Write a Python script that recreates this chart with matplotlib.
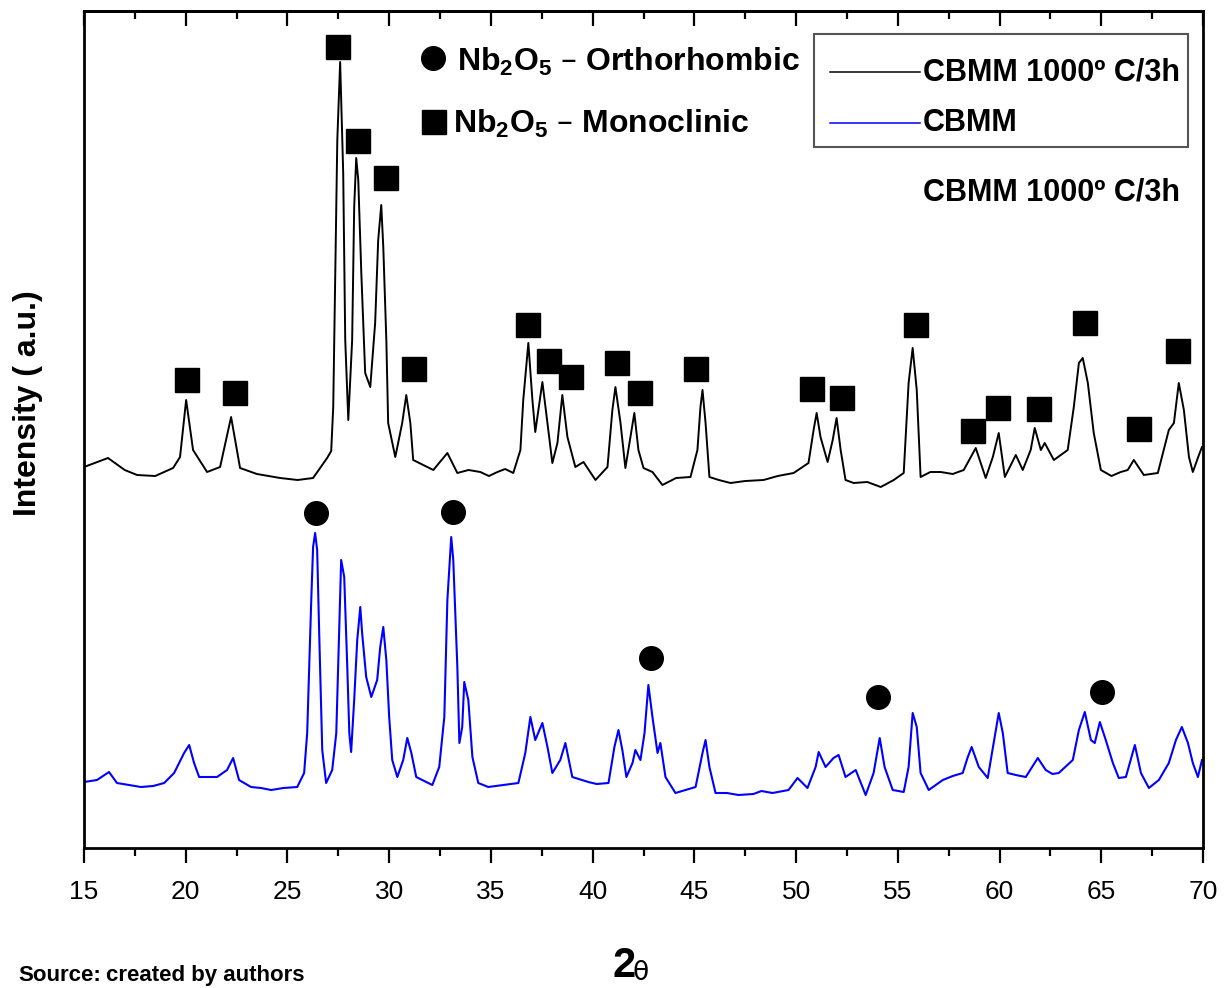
import matplotlib
matplotlib.use("Agg")
import matplotlib.pyplot as plt
from matplotlib.patches import Rectangle
from matplotlib.ticker import MultipleLocator

plt.rcParams['font.family'] = ['Liberation Sans', 'DejaVu Sans']
plt.rcParams['mathtext.default'] = 'regular'

# ---- data (2theta in degrees, intensity in a.u.) ----
tt_calc = [15.00, 16.18, 17.00, 17.61, 18.50, 19.38, 19.72, 20.02, 20.36, 21.05, 21.69, 22.23,
           22.67, 23.50, 24.64, 25.50, 26.26, 26.95, 27.15, 27.25, 27.45, 27.59, 27.74, 27.84,
           27.99, 28.18, 28.28, 28.38, 28.48, 28.63, 28.82, 29.07, 29.31, 29.46, 29.61, 29.71,
           29.86, 29.95, 30.30, 30.64, 30.84, 31.04, 31.18, 32.17, 32.86, 33.35, 33.90, 34.48,
           34.90, 35.32, 35.70, 36.10, 36.45, 36.59, 36.84, 37.04, 37.18, 37.53, 37.78, 38.02,
           38.27, 38.51, 38.76, 39.15, 39.55, 40.14, 40.73, 40.97, 41.12, 41.37, 41.61, 41.86,
           42.05, 42.25, 42.50, 42.94, 43.43, 44.10, 44.81, 45.15, 45.30, 45.40, 45.55, 45.74,
           46.20, 46.78, 47.50, 48.40, 49.10, 49.88, 50.61, 50.86, 51.01, 51.20, 51.55, 51.80,
           51.99, 52.19, 52.43, 52.83, 53.50, 54.16, 54.80, 55.29, 55.53, 55.73, 55.93, 56.12,
           56.60, 57.11, 57.70, 58.24, 58.83, 59.32, 59.67, 59.96, 60.26, 60.80, 61.14, 61.53,
           61.73, 62.03, 62.22, 62.67, 63.35, 63.65, 63.90, 64.09, 64.34, 64.63, 64.98, 65.50,
           65.96, 66.30, 66.60, 67.09, 67.78, 68.32, 68.57, 68.81, 69.06, 69.31, 69.50, 69.80,
           69.95]
int_calc = [381, 390, 378, 373, 372, 380, 391, 448, 398, 376, 381, 431,
            380, 374, 370, 368, 370, 390, 397, 441, 708, 786, 675, 508,
            428, 508, 641, 690, 668, 575, 475, 461, 525, 608, 643, 601,
            508, 425, 391, 425, 453, 425, 388, 378, 395, 375, 378, 376,
            372, 376, 379, 375, 398, 448, 505, 448, 416, 466, 425, 385,
            405, 453, 411, 381, 386, 368, 381, 438, 461, 425, 380, 411,
            435, 398, 380, 376, 363, 370, 371, 398, 441, 458, 425, 371,
            368, 365, 367, 368, 372, 375, 385, 418, 435, 411, 386, 408,
            430, 398, 368, 365, 366, 361, 368, 375, 465, 500, 458, 371,
            376, 376, 374, 378, 400, 370, 391, 415, 371, 393, 378, 398,
            420, 398, 405, 388, 398, 441, 485, 490, 465, 415, 378, 372,
            376, 378, 388, 373, 375, 418, 425, 465, 438, 391, 376, 393,
            401]

tt_raw = [15.00, 15.64, 16.23, 16.62, 17.20, 17.80, 18.40, 18.94, 19.43, 19.92, 20.17, 20.41,
          20.66, 21.54, 22.03, 22.33, 22.62, 23.21, 23.70, 24.20, 24.80, 25.48, 25.82, 25.97,
          26.17, 26.26, 26.36, 26.46, 26.56, 26.71, 26.90, 27.20, 27.40, 27.54, 27.64, 27.79,
          27.94, 28.04, 28.13, 28.28, 28.43, 28.58, 28.67, 28.87, 29.12, 29.41, 29.56, 29.71,
          29.86, 30.00, 30.15, 30.40, 30.69, 30.89, 31.09, 31.33, 32.12, 32.46, 32.71, 32.86,
          33.05, 33.15, 33.35, 33.45, 33.59, 33.69, 33.89, 34.09, 34.38, 34.87, 35.60, 36.35,
          36.69, 36.94, 37.18, 37.53, 37.78, 38.02, 38.41, 38.66, 39.00, 39.79, 40.20, 40.78,
          41.07, 41.27, 41.46, 41.66, 41.96, 42.10, 42.35, 42.55, 42.74, 42.94, 43.19, 43.33,
          43.58, 44.07, 45.06, 45.40, 45.55, 45.74, 46.04, 46.60, 47.17, 47.90, 48.30, 48.84,
          49.63, 50.07, 50.56, 50.96, 51.11, 51.45, 51.84, 52.09, 52.43, 52.93, 53.42, 53.81,
          54.11, 54.35, 54.75, 55.29, 55.53, 55.73, 55.93, 56.12, 56.52, 57.21, 57.70, 58.19,
          58.44, 58.63, 58.98, 59.42, 59.71, 59.96, 60.16, 60.40, 60.80, 61.29, 61.88, 62.27,
          62.60, 62.91, 63.60, 63.90, 64.19, 64.49, 64.68, 64.93, 65.22, 65.57, 65.86, 66.21,
          66.65, 66.95, 67.34, 67.83, 68.32, 68.67, 68.96, 69.26, 69.50, 69.75, 69.95]
int_raw = [66, 68, 76, 65, 63, 61, 62, 65, 75, 95, 103, 85,
           71, 71, 78, 90, 68, 61, 60, 58, 60, 61, 75, 115,
           248, 301, 315, 298, 215, 98, 65, 78, 115, 215, 288, 271,
           181, 115, 96, 148, 208, 241, 215, 171, 151, 168, 201, 221,
           188, 131, 88, 71, 88, 110, 95, 71, 63, 81, 131, 248,
           311, 288, 181, 105, 121, 166, 148, 91, 65, 61, 63, 65,
           95, 131, 108, 125, 101, 75, 88, 105, 71, 66, 64, 65,
           101, 118, 98, 71, 85, 98, 88, 115, 163, 131, 95, 105,
           71, 55, 61, 95, 108, 81, 55, 55, 53, 54, 57, 55,
           58, 70, 60, 81, 96, 81, 90, 93, 71, 78, 53, 75,
           110, 81, 58, 56, 81, 135, 121, 75, 58, 68, 72, 75,
           91, 101, 81, 70, 105, 135, 115, 75, 73, 71, 90, 78,
           74, 75, 88, 118, 136, 108, 105, 126, 108, 85, 70, 71,
           103, 75, 60, 68, 85, 108, 121, 105, 85, 71, 88]

# phase markers
mono_tt = [27.49, 28.48, 29.86, 20.07, 22.43, 31.23, 36.84, 37.87, 38.96, 41.22, 42.35,
           45.10, 50.76, 52.24, 55.88, 58.68, 59.91, 61.93, 64.19, 66.85, 68.77]
mono_int = [801, 707, 670, 468, 455, 479, 523, 487, 471, 485, 455,
            479, 459, 450, 523, 417, 440, 439, 525, 419, 497]
ortho_tt = [26.41, 33.15, 42.89, 54.01, 65.03]
ortho_int = [335, 336, 190, 151, 156]

series_labels = ["CBMM 1000º C/3h", "CBMM"]
xticks = [15, 20, 25, 30, 35, 40, 45, 50, 55, 60, 65, 70]

W, H = 1226, 988
fig = plt.figure(figsize=(W / 100, H / 100), dpi=100)
ax = fig.add_axes([84 / W, 1 - 848 / H, 1119 / W, 837 / H])

ax.plot(tt_calc, int_calc, color='black', lw=1.4)
ax.plot(tt_raw, int_raw, color='#0000ff', lw=1.5)
ax.plot(mono_tt, mono_int, 's', color='black', ms=17, mec='black')
ax.plot(ortho_tt, ortho_int, 'o', color='black', ms=17)

ax.set_xlim(15, 70)
ax.set_ylim(0, 837)
ax.set_yticks([])
ax.set_xticks(xticks)
ax.xaxis.set_minor_locator(MultipleLocator(2.5))
ax.tick_params(axis='x', which='major', direction='out', length=11, width=1.6,
               labelsize=19, pad=12)
ax.tick_params(axis='x', which='minor', direction='out', length=6, width=1.6)
for sp in ax.spines.values():
    sp.set_linewidth(2)

top = ax.secondary_xaxis('top')
top.set_xticks(xticks)
top.xaxis.set_minor_locator(MultipleLocator(2.5))
top.tick_params(axis='x', which='major', direction='in', length=11, width=1.6, labeltop=False)
top.tick_params(axis='x', which='minor', direction='in', length=6, width=1.6)
top.spines['top'].set_linewidth(2)

# phase legend
ax.plot([0.3119], [0.9438], 'o', color='black', ms=17, transform=ax.transAxes, clip_on=False)
ax.plot([0.3128], [0.8674], 's', color='black', ms=17, transform=ax.transAxes, clip_on=False)
ax.text(0.3333, 0.9391, r"Nb$_2$O$_5$ – Orthorhombic", transform=ax.transAxes,
        fontsize=23, va='center', ha='left', fontweight='semibold')
ax.text(0.3298, 0.865, r"Nb$_2$O$_5$ – Monoclinic", transform=ax.transAxes,
        fontsize=23, va='center', ha='left', fontweight='semibold')

# series legend box
ax.add_patch(Rectangle((0.6524, 0.8375), 0.9866 - 0.6524, 0.9725 - 0.8375,
                       transform=ax.transAxes, fill=False, edgecolor='#555555', lw=1.5))
ax.plot([0.6667, 0.7471], [0.9271, 0.9271], color='black', lw=1.1, transform=ax.transAxes)
ax.plot([0.6667, 0.7471], [0.8662, 0.8662], color='#0000ff', lw=1.1, transform=ax.transAxes)
ax.text(0.7498, 0.9271, series_labels[0], transform=ax.transAxes, fontsize=22,
        va='center', ha='left', fontweight='semibold')
ax.text(0.7498, 0.8662, series_labels[1], transform=ax.transAxes, fontsize=22,
        va='center', ha='left', fontweight='semibold')
ax.text(0.7498, 0.7826, series_labels[0], transform=ax.transAxes, fontsize=22,
        va='center', ha='left', fontweight='semibold')

# axis labels
fig.text(28 / W, 1 - 403 / H, "Intensity ( a.u.)", rotation=90, fontsize=23,
         fontweight='semibold', ha='center', va='center')
fig.text(612 / W, 1 - 986 / H, "2", fontsize=30, fontweight='bold', ha='left', va='bottom')
fig.text(633 / W, 1 - 986 / H, "θ", fontsize=19, ha='left', va='bottom',
         family=['DejaVu Sans'])
fig.text(18 / W, 1 - 965 / H, "Source:", fontsize=16, fontweight='bold',
         ha='left', va='top')
fig.text(106 / W, 1 - 965 / H, "created by authors", fontsize=16, fontweight='semibold',
         ha='left', va='top')

fig.savefig("out.png", dpi=100)
